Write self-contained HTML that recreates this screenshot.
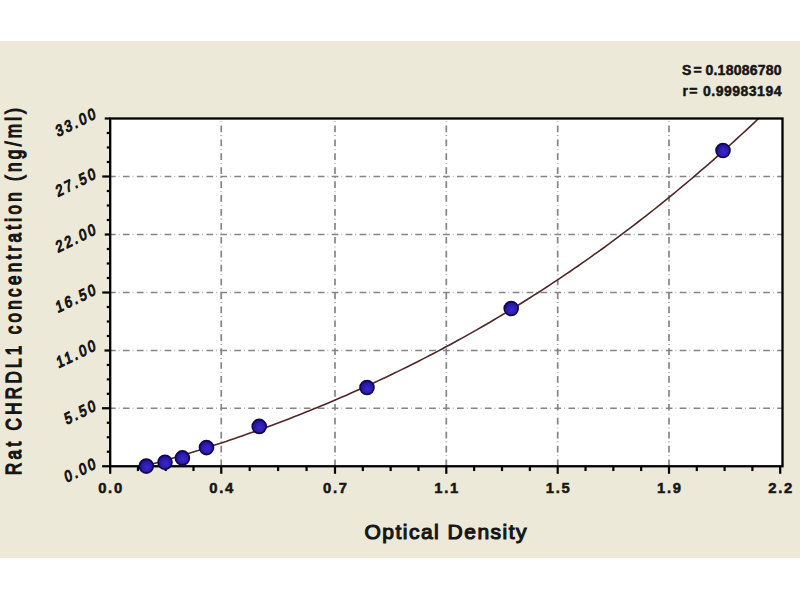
<!DOCTYPE html>
<html><head><meta charset="utf-8"><style>
html,body{margin:0;padding:0;background:#fff;width:800px;height:600px;overflow:hidden}
svg{display:block}
svg{font-weight:bold}
text{font-family:"Liberation Sans",sans-serif;fill:#161616;stroke:#161616}
</style></head><body>
<svg width="800" height="600" viewBox="0 0 800 600">
<rect x="0" y="41" width="800" height="517" fill="#ECE9D8"/>
<rect x="110.2" y="118.5" width="672.30" height="347.75" fill="#fff"/>
<g stroke="#858585" stroke-width="1.7" stroke-dasharray="6.7 3.1 0.6 3.52" fill="none">
<g stroke-dashoffset="1.2"><line x1="110.2" y1="408.25" x2="782.5" y2="408.25"/><line x1="110.2" y1="350.50" x2="782.5" y2="350.50"/><line x1="110.2" y1="292.50" x2="782.5" y2="292.50"/><line x1="110.2" y1="234.50" x2="782.5" y2="234.50"/><line x1="110.2" y1="176.50" x2="782.5" y2="176.50"/></g>
<g stroke-dashoffset="6.9"><line x1="221.25" y1="118.5" x2="221.25" y2="466.25"/><line x1="335.00" y1="118.5" x2="335.00" y2="466.25"/><line x1="446.30" y1="118.5" x2="446.30" y2="466.25"/><line x1="557.70" y1="118.5" x2="557.70" y2="466.25"/><line x1="669.00" y1="118.5" x2="669.00" y2="466.25"/></g>
</g>
<polyline points="146.0,465.9 150.0,464.7 154.0,463.6 158.0,462.5 162.0,461.3 166.0,460.2 170.0,459.0 174.0,457.8 178.0,456.6 182.0,455.4 186.0,454.2 190.0,452.9 194.0,451.7 198.0,450.5 202.0,449.2 206.0,447.9 210.0,446.6 214.0,445.3 218.0,444.0 222.0,442.7 226.0,441.4 230.0,440.0 234.0,438.7 238.0,437.3 242.0,435.9 246.0,434.5 250.0,433.1 254.0,431.7 258.0,430.3 262.0,428.8 266.0,427.4 270.0,425.9 274.0,424.4 278.0,422.9 282.0,421.4 286.0,419.9 290.0,418.4 294.0,416.8 298.0,415.2 302.0,413.7 306.0,412.1 310.0,410.5 314.0,408.8 318.0,407.2 322.0,405.6 326.0,403.9 330.0,402.2 334.0,400.5 338.0,398.8 342.0,397.1 346.0,395.4 350.0,393.6 354.0,391.8 358.0,390.1 362.0,388.3 366.0,386.5 370.0,384.6 374.0,382.8 378.0,380.9 382.0,379.1 386.0,377.2 390.0,375.3 394.0,373.3 398.0,371.4 402.0,369.4 406.0,367.5 410.0,365.5 414.0,363.5 418.0,361.5 422.0,359.4 426.0,357.4 430.0,355.3 434.0,353.2 438.0,351.1 442.0,349.0 446.0,346.8 450.0,344.7 454.0,342.5 458.0,340.3 462.0,338.1 466.0,335.9 470.0,333.6 474.0,331.4 478.0,329.1 482.0,326.8 486.0,324.5 490.0,322.2 494.0,319.8 498.0,317.4 502.0,315.0 506.0,312.6 510.0,310.2 514.0,307.8 518.0,305.3 522.0,302.8 526.0,300.3 530.0,297.8 534.0,295.2 538.0,292.7 542.0,290.1 546.0,287.5 550.0,284.9 554.0,282.2 558.0,279.6 562.0,276.9 566.0,274.2 570.0,271.5 574.0,268.7 578.0,266.0 582.0,263.2 586.0,260.4 590.0,257.6 594.0,254.7 598.0,251.9 602.0,249.0 606.0,246.1 610.0,243.1 614.0,240.2 618.0,237.2 622.0,234.2 626.0,231.2 630.0,228.2 634.0,225.1 638.0,222.0 642.0,218.9 646.0,215.8 650.0,212.7 654.0,209.5 658.0,206.3 662.0,203.1 666.0,199.9 670.0,196.6 674.0,193.3 678.0,190.0 682.0,186.7 686.0,183.4 690.0,180.0 694.0,176.6 698.0,173.2 702.0,169.7 706.0,166.3 710.0,162.8 714.0,159.3 718.0,155.7 722.0,152.2 726.0,148.6 730.0,145.0 734.0,141.3 738.0,137.7 742.0,134.0 746.0,130.3 750.0,126.6 754.0,122.8 758.0,119.0 758.5,118.6" fill="none" stroke="#4f2727" stroke-width="1.6"/>
<rect x="110.2" y="118.5" width="672.30" height="347.75" fill="none" stroke="#000" stroke-width="2.3"/>
<g stroke="#000" stroke-width="2.2"><line x1="137.96" y1="466.25" x2="137.96" y2="471.05"/><line x1="165.72" y1="466.25" x2="165.72" y2="471.05"/><line x1="193.49" y1="466.25" x2="193.49" y2="471.05"/><line x1="249.69" y1="466.25" x2="249.69" y2="471.05"/><line x1="278.12" y1="466.25" x2="278.12" y2="471.05"/><line x1="306.56" y1="466.25" x2="306.56" y2="471.05"/><line x1="362.82" y1="466.25" x2="362.82" y2="471.05"/><line x1="390.65" y1="466.25" x2="390.65" y2="471.05"/><line x1="418.48" y1="466.25" x2="418.48" y2="471.05"/><line x1="474.15" y1="466.25" x2="474.15" y2="471.05"/><line x1="502.00" y1="466.25" x2="502.00" y2="471.05"/><line x1="529.85" y1="466.25" x2="529.85" y2="471.05"/><line x1="585.53" y1="466.25" x2="585.53" y2="471.05"/><line x1="613.35" y1="466.25" x2="613.35" y2="471.05"/><line x1="641.17" y1="466.25" x2="641.17" y2="471.05"/><line x1="696.80" y1="466.25" x2="696.80" y2="471.05"/><line x1="724.60" y1="466.25" x2="724.60" y2="471.05"/><line x1="752.40" y1="466.25" x2="752.40" y2="471.05"/><line x1="110.20" y1="466.25" x2="110.20" y2="473.8"/><line x1="221.25" y1="466.25" x2="221.25" y2="473.8"/><line x1="335.00" y1="466.25" x2="335.00" y2="473.8"/><line x1="446.30" y1="466.25" x2="446.30" y2="473.8"/><line x1="557.70" y1="466.25" x2="557.70" y2="473.8"/><line x1="669.00" y1="466.25" x2="669.00" y2="473.8"/><line x1="780.20" y1="466.25" x2="780.20" y2="473.8"/><line x1="106.8" y1="451.75" x2="110.2" y2="451.75"/><line x1="106.8" y1="437.25" x2="110.2" y2="437.25"/><line x1="106.8" y1="422.75" x2="110.2" y2="422.75"/><line x1="106.8" y1="393.81" x2="110.2" y2="393.81"/><line x1="106.8" y1="379.38" x2="110.2" y2="379.38"/><line x1="106.8" y1="364.94" x2="110.2" y2="364.94"/><line x1="106.8" y1="336.00" x2="110.2" y2="336.00"/><line x1="106.8" y1="321.50" x2="110.2" y2="321.50"/><line x1="106.8" y1="307.00" x2="110.2" y2="307.00"/><line x1="106.8" y1="278.00" x2="110.2" y2="278.00"/><line x1="106.8" y1="263.50" x2="110.2" y2="263.50"/><line x1="106.8" y1="249.00" x2="110.2" y2="249.00"/><line x1="106.8" y1="220.00" x2="110.2" y2="220.00"/><line x1="106.8" y1="205.50" x2="110.2" y2="205.50"/><line x1="106.8" y1="191.00" x2="110.2" y2="191.00"/><line x1="106.8" y1="162.00" x2="110.2" y2="162.00"/><line x1="106.8" y1="147.50" x2="110.2" y2="147.50"/><line x1="106.8" y1="133.00" x2="110.2" y2="133.00"/><line x1="102.1" y1="466.25" x2="110.2" y2="466.25"/><line x1="102" y1="408.25" x2="110.2" y2="408.25"/><line x1="104.5" y1="350.50" x2="110.2" y2="350.50"/><line x1="102.25" y1="292.50" x2="110.2" y2="292.50"/><line x1="104.75" y1="234.50" x2="110.2" y2="234.50"/><line x1="102.25" y1="176.50" x2="110.2" y2="176.50"/><line x1="104.75" y1="118.50" x2="110.2" y2="118.50"/></g>
<defs><radialGradient id="dg" cx="0.55" cy="0.6" r="0.6"><stop offset="0" stop-color="#3a2ac8"/><stop offset="0.6" stop-color="#2b1aac"/><stop offset="1" stop-color="#1a0c84"/></radialGradient></defs>
<g fill="url(#dg)" stroke="#10064e" stroke-width="1.6"><circle cx="146.3" cy="466.1" r="7"/><circle cx="165" cy="462.3" r="7"/><circle cx="182.4" cy="457.9" r="7"/><circle cx="206.5" cy="447.6" r="7"/><circle cx="259.2" cy="426.4" r="7"/><circle cx="367" cy="387.5" r="7"/><circle cx="511.2" cy="308.5" r="7"/><circle cx="723" cy="150.5" r="7"/></g>
<g font-size="14.8" style="stroke-width:0.5px" text-anchor="middle" letter-spacing="1.7"><text x="111.0" y="492.5">0.0</text><text x="222.1" y="492.5">0.4</text><text x="335.9" y="492.5">0.7</text><text x="447.2" y="492.5">1.1</text><text x="558.6" y="492.5">1.5</text><text x="669.9" y="492.5">1.9</text><text x="781.1" y="492.5">2.2</text></g>
<g font-size="15.5" style="font-weight:normal;stroke-width:1.15px" text-anchor="end" letter-spacing="3.0"><text transform="translate(98.7,467.00) rotate(-26) skewX(-10) scale(0.85,1)">0.00</text><text transform="translate(98.7,409.00) rotate(-26) skewX(-10) scale(0.85,1)">5.50</text><text transform="translate(98.7,348.75) rotate(-26) skewX(-10) scale(0.85,1)">11.00</text><text transform="translate(98.7,293.00) rotate(-26) skewX(-10) scale(0.85,1)">16.50</text><text transform="translate(98.7,232.75) rotate(-26) skewX(-10) scale(0.85,1)">22.00</text><text transform="translate(98.7,177.00) rotate(-26) skewX(-10) scale(0.85,1)">27.50</text><text transform="translate(98.7,117.00) rotate(-26) skewX(-10) scale(0.85,1)">33.00</text></g>
<text x="364.5" y="538.6" font-size="21" style="font-weight:normal;stroke-width:1.15px" textLength="162" lengthAdjust="spacing">Optical Density</text>
<text transform="translate(21,475) rotate(-90) scale(0.76,1)" font-size="22.5" style="font-weight:normal;stroke-width:1.4px" textLength="482.9" lengthAdjust="spacing">Rat CHRDL1 concentration (ng/ml)</text>
<g font-size="14" style="stroke-width:0.5px">
<text x="682" y="75.3">S</text><text x="693.5" y="75.3">=</text>
<text x="705.5" y="75.3" textLength="76" lengthAdjust="spacing">0.18086780</text>
<text x="682.5" y="95.5">r</text><text x="689.3" y="95.5">=</text>
<text x="703" y="95.5" textLength="78.5" lengthAdjust="spacing">0.99983194</text>
</g>
</svg>
</body></html>
